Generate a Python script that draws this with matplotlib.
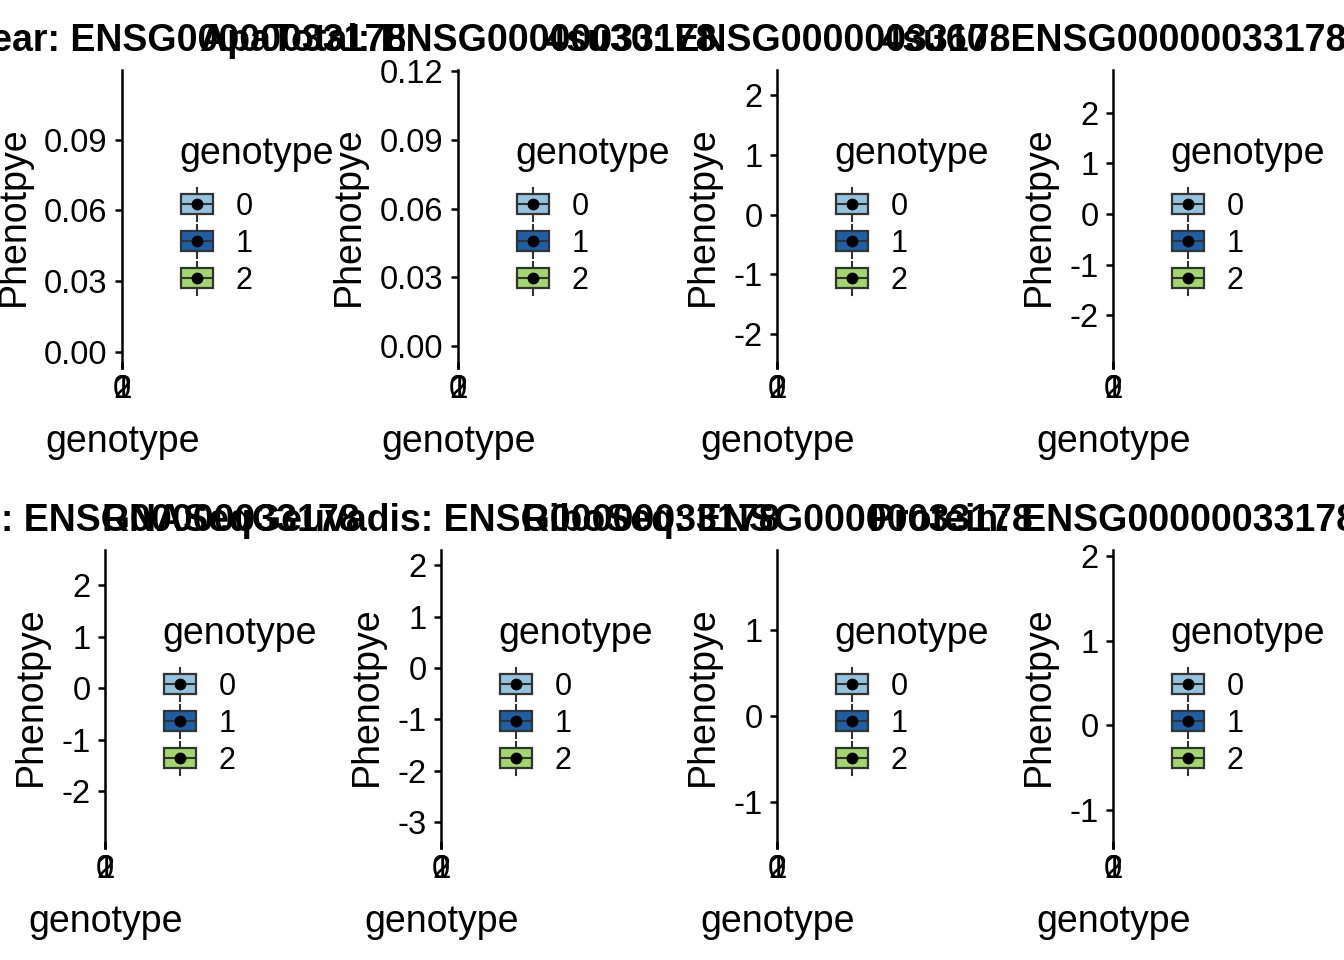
import matplotlib
matplotlib.use("Agg")
import matplotlib.pyplot as plt
from matplotlib.patches import Patch, Rectangle
from matplotlib.lines import Line2D
from matplotlib.legend_handler import HandlerBase

plt.rcParams['font.family'] = ['Liberation Sans', 'DejaVu Sans']
plt.rcParams['axes.unicode_minus'] = False

# panel data
gene = "ENSG00000033178"
datasets = ["ApaNuclear", "ApaTotal", "4su30", "4su60",
            "RNASeq", "RNASeqGeuvadis", "RiboSeq", "Protein"]
y_limits = [(-0.0042, 0.1195), (-0.007, 0.1205), (-2.47, 2.42), (-2.92, 2.84),
            (-2.99, 2.68), (-3.39, 2.30), (-1.47, 1.93), (-1.38, 2.07)]
y_ticks = [[0.00, 0.03, 0.06, 0.09], [0.00, 0.03, 0.06, 0.09, 0.12],
           [-2, -1, 0, 1, 2], [-2, -1, 0, 1, 2],
           [-2, -1, 0, 1, 2], [-3, -2, -1, 0, 1, 2],
           [-1, 0, 1], [-1, 0, 1, 2]]
genotypes = ["0", "1", "2"]
geno_colors = ["#92C4DF", "#1D5FA7", "#A2D76C"]

# layout in pixels
W, H = 1344, 960
axis_x = [122, 458, 777, 1113, 105, 441, 777, 1113]
row_top = [70, 550]
panel_h = 292
edge = "#333333"


class BoxKeyHandler(HandlerBase):
    """legend key drawn like a ggplot boxplot key with a mean dot"""

    def create_artists(self, legend, orig_handle, xdescent, ydescent,
                       width, height, fontsize, trans):
        cx = -xdescent + width / 2
        cy = -ydescent + height / 2
        bw = width * 0.87
        bh = height * 0.6
        top = -ydescent + height
        bot = -ydescent
        whisk = Line2D([cx, cx], [bot, top], color=edge, lw=1.5, transform=trans)
        rect = Rectangle((cx - bw / 2, cy - bh / 2), bw, bh,
                         facecolor=orig_handle.get_facecolor(), edgecolor=edge,
                         lw=1.6, transform=trans)
        med = Line2D([cx - bw / 2, cx + bw / 2], [cy, cy], color=edge, lw=1.5,
                     transform=trans)
        dot = Line2D([cx], [cy], marker='o', ms=7.5, color='black', lw=0,
                     transform=trans)
        return [whisk, rect, med, dot]


fig = plt.figure(figsize=(W / 100, H / 100), dpi=100)

for i, name in enumerate(datasets):
    row = i // 4
    top = row_top[row]
    ax = fig.add_axes([axis_x[i] / W, 1 - (top + panel_h) / H, 0.4 / W, panel_h / H])
    ax.set_xlim(-0.6, 2.6)
    ax.set_xticks(range(len(genotypes)))
    ax.set_xticklabels(genotypes)
    ax.set_ylim(*y_limits[i])
    ax.set_yticks(y_ticks[i])
    if i < 2:
        ax.set_yticklabels([f"{v:.2f}" for v in y_ticks[i]])
    else:
        ax.set_yticklabels([f"{v:d}" for v in y_ticks[i]])
    for s in ['top', 'right']:
        ax.spines[s].set_visible(False)
    for s in ['left', 'bottom']:
        ax.spines[s].set_linewidth(1.8)
    ax.tick_params(length=5, width=1.8, labelsize=23.5, colors='black')
    ax.tick_params(axis='y', pad=5.5)
    ax.tick_params(axis='x', pad=4)
    ax.set_xlabel("genotype", fontsize=27, labelpad=13)
    ax.set_ylabel("Phenotpye", fontsize=27, labelpad=9)
    ax.set_title(f"{name}: {gene}", fontsize=27, fontweight='bold', pad=14)

    handles = [Patch(facecolor=c) for c in geno_colors]
    leg = ax.legend(handles, genotypes, title="genotype",
                    handler_map={Patch: BoxKeyHandler()},
                    loc='center left',
                    bbox_to_anchor=((axis_x[i] + 57) / W, 1 - (top + panel_h / 2) / H),
                    bbox_transform=fig.transFigure, frameon=False,
                    fontsize=22, title_fontsize=27, alignment='left',
                    borderpad=0, borderaxespad=0, handlelength=1.2, handleheight=1.3,
                    handletextpad=0.65, labelspacing=0.1)
    # more room between the legend title and the keys, as in ggplot
    leg._legend_box.sep = 11

fig.savefig("out.png", dpi=100)
